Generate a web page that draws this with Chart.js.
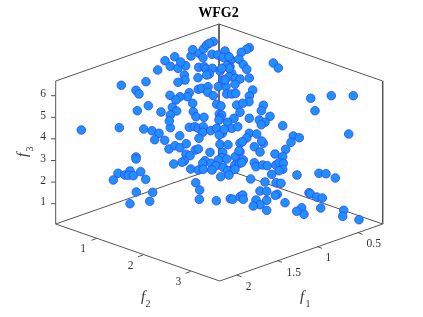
<!DOCTYPE html>
<html>
<head>
<meta charset="utf-8">
<style>
  html, body { margin: 0; padding: 0; background: #fff; }
  canvas { display: block; }
</style>
<script src="https://cdn.jsdelivr.net/npm/chart.js@4"></script>
</head>
<body>
<canvas id="wfg2" width="423" height="317"></canvas>
<script>
// projected view position of each solution
const viewX = [
  121.3,146,136,139,137.3,148.3,161,157.7,165,174.7,170.3,178,185.7,180.7,191,192.7,199.3,203.7,206.7,213.3,
  209.3,203,212,217.7,225,223.3,231,198.7,204.3,206,212.3,209.3,206.7,220,230,226.7,231.7,229,222.7,235.3,
  198,184.3,185,178,198.3,201.7,208,207.7,218.3,226,213.3,226.7,231.7,235.7,189.3,187.3,180,170,176,192.7,
  172.3,176.7,170.3,193.3,196,204,216.7,221,219.3,221.7,236.7,220,
  249.3,246.7,241.3,229,239,243.3,246.7,229.3,221.7,240,249.3,225,235,252.7,249.3,249,242.7,263.3,261.3,240,
  234,249.3,259.3,270,273.3,278.3,310.7,331.3,353.3,315,
  81.3,119.3,143.7,152,159,154.7,164.7,179.7,170.3,169.3,189.3,194.7,198.3,203.3,202.7,210.7,199,219,216.7,222.3,
  219.3,227.7,231.7,237.7,220,228,240,169,175,180,186.3,195.3,198.3,186,190,136,136,184.3,182,173.7,
  205,210,222.7,221.7,218.3,226.7,235.3,240,202.7,211,216,223.3,231.7,235,239.3,190.7,198.3,203.3,212,227.7,
  220.7,229,118,113.3,125,130,128.3,133.3,140.7,145.7,195.7,199.7,136.3,152.7,130,149.7,199.3,216.3,230.3,232.7,240,
  265,261.3,224.3,282.7,348.7,293.3,299.3,291,285.7,263.3,261.7,249.3,256.7,246.7,242.3,254.3,260,239,275,282.7,
  243.3,241.7,254.3,256,262.7,267.3,276,279,283.3,282.7,279,235,297,319,326,335.3,271.7,250.7,265,276,
  281,260,266.7,277.3,275.3,309,310.3,316.7,322.3,285,242.7,243.3,256,266.7,260,253.3,266.7,320.7,301.7,304,
  296.7,343.7,342.7,359
];
const viewY = [
  85.3,81.7,90.3,94,110.7,105.7,112,70,60.7,56.7,66.3,68.3,65.7,62,56,49.7,53.3,48.7,45,41.7,
  43.3,57.7,54.3,55,51,57.3,60,67.3,66.7,69,68.3,74,75,71,66.7,65.7,73.3,76.7,80,78.3,
  77.7,75,80,82.3,89.3,88.3,86.7,92.3,86.7,86.7,95.7,94,94,93.3,92.7,96.7,96.7,95.3,100,103.3,
  107.3,111,115,111.7,116.7,117.3,104.3,106,114,115,105,118,
  47.7,49.3,52.3,56.7,59.3,64.7,69.3,68.3,68.3,79,78,80,84.3,90,96,101.7,103.3,105.3,110.7,112.3,
  118.3,118.3,120,116.3,63,68,98.3,95.7,95.7,110.7,
  130,127.7,129,130.7,133.3,139.7,140.3,135.7,127.7,121,127.3,126.7,128.3,126.7,132.3,130.7,138.3,120,128.3,133.3,
  135,122.3,128.3,126.7,144.3,144.7,143.3,149,145.7,147.7,143.7,150,149,154.3,155.7,157,159,161,162.3,164,
  160.7,152.3,152.3,157.7,160,159,156.7,151.7,163.3,163.3,165.7,167.3,170,165,163.3,169,170,169.3,170,170.7,
  176.7,175,173.3,180,175,171,175.3,175.7,171.7,179.3,182.7,190,192,192.3,203.7,201.3,199.3,200.7,198.7,199.3,196.7,
  122.3,124.7,129.3,125.7,134,136,137.7,142.3,149.3,143.3,141,133.3,134,138,141.7,146.7,152,150.7,154,156.7,
  160,162.7,162.7,166.7,165,165.7,165,162.7,163.3,169.3,170.7,169.3,175,173.3,173.7,178,174.3,179,182,182.7,
  183.3,191,191.3,194.3,195.3,192.7,193.7,197,198,202.7,195,199.3,200,200.3,204.7,206,210.3,208,207.7,214.3,
  211.3,210.3,216.3,219.7
];

// outline of the 3D box, null breaks the line
const boxX = [55.7,219,382.7,382.7,219.7,55.7,55.7,null,219,219,null,55.7,219,382.7];
const boxY = [81,24,81,224,281,224,81,null,24,167,null,224,167,224];

const f3Ticks = [1,2,3,4,5,6];
const f3TickY = [203.7,182.1,160.5,138.9,117.3,95.7];
const f2Ticks = ["1","2","3"];
const f2TickX = [96.5,143,190.5];
const f2TickY = [238.5,255,271.5];
const f2LabelX = [83,130.7,178.3];
const f2LabelY = [249,266,282.3];
const f1Ticks = ["0.5","1","1.5","2"];
const f1TickX = [357.5,317,277,236.5];
const f1TickY = [232.5,246.5,260.5,275];
const f1LabelX = [373.7,328.3,293.7,248.7];
const f1LabelY = [244,258.3,272.7,286.7];

const AXIS = "#555555";
const TEXT = "#333333";
const SERIF = '"Liberation Serif", serif';

function tickSegments() {
  const xs = [], ys = [];
  f3TickY.forEach((y) => xs.push(51, 55.7, null) && ys.push(y, y, null));
  f2TickX.forEach((x, i) => xs.push(x, x - 5, null) && ys.push(f2TickY[i], f2TickY[i] + 1.8, null));
  f1TickX.forEach((x, i) => xs.push(x, x + 5, null) && ys.push(f1TickY[i], f1TickY[i] + 1.8, null));
  return { xs, ys };
}

function toPoints(xs, ys) {
  return xs.map((x, i) => ({ x: x, y: ys[i] }));
}

const ticks = tickSegments();

// tick labels, axis names and title go through the same scales as the points
const labelsPlugin = {
  id: "labels3d",
  afterDraw(chart) {
    const c = chart.ctx;
    const sx = chart.scales.x, sy = chart.scales.y;
    const put = (txt, x, y) => c.fillText(txt, sx.getPixelForValue(x), sy.getPixelForValue(y));
    c.save();
    c.textAlign = "center";
    c.textBaseline = "middle";
    c.fillStyle = TEXT;
    c.font = "11.5px " + SERIF;
    f3Ticks.forEach((t, i) => put(String(t), 43, f3TickY[i] - 1.5));
    f2Ticks.forEach((t, i) => put(t, f2LabelX[i], f2LabelY[i]));
    f1Ticks.forEach((t, i) => put(t, f1LabelX[i], f1LabelY[i]));

    c.font = "italic 15px " + SERIF;
    put("f", 143, 297);
    put("f", 302, 297);
    c.font = "10px " + SERIF;
    put("2", 148, 304);
    put("1", 308, 304);

    c.save();
    c.translate(sx.getPixelForValue(23), sy.getPixelForValue(153));
    c.rotate(-Math.PI / 2);
    c.font = "italic 15px " + SERIF;
    c.fillText("f", -2, 0);
    c.font = "10px " + SERIF;
    c.fillText("3", 4, 7);
    c.restore();

    c.fillStyle = "#000";
    c.font = "bold 14px " + SERIF;
    put("WFG2", 218.5, 13);
    c.restore();
  },
};

new Chart(document.getElementById("wfg2"), {
  type: "scatter",
  data: {
    datasets: [
      {
        label: "WFG2",
        data: toPoints(viewX, viewY),
        order: 1,
        pointRadius: 4.3,
        pointHoverRadius: 4.3,
        pointBackgroundColor: "#1e90ff",
        pointBorderColor: "#2f45ff",
        pointBorderWidth: 0.8,
      },
      {
        label: "box",
        data: toPoints(boxX, boxY),
        order: 2,
        showLine: true,
        spanGaps: false,
        pointRadius: 0,
        borderColor: AXIS,
        borderWidth: 1,
      },
      {
        label: "ticks",
        data: toPoints(ticks.xs, ticks.ys),
        order: 3,
        showLine: true,
        spanGaps: false,
        pointRadius: 0,
        borderColor: AXIS,
        borderWidth: 1,
      },
    ],
  },
  options: {
    responsive: false,
    animation: false,
    layout: { padding: 0, autoPadding: false },
    plugins: {
      legend: { display: false },
      title: { display: false },
      tooltip: { enabled: false },
    },
    scales: {
      x: { type: "linear", min: 0, max: 423, display: false },
      y: { type: "linear", min: 0, max: 317, reverse: true, display: false },
    },
  },
  plugins: [labelsPlugin],
});
</script>
</body>
</html>
